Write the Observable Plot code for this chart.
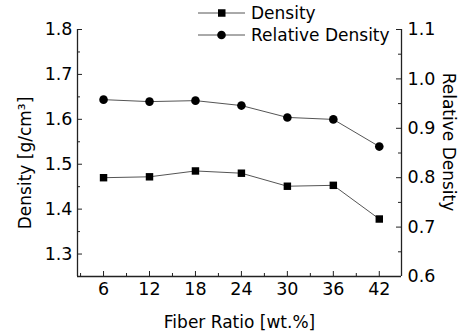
<!DOCTYPE html>
<html><head><meta charset="utf-8">
<script src="https://cdn.jsdelivr.net/npm/d3@7"></script>
<script src="https://cdn.jsdelivr.net/npm/@observablehq/plot@0.6"></script>
<style>
body{margin:0;background:#fff;font-family:"DejaVu Sans",sans-serif}
#wrap{position:relative;width:469px;height:335px}
#legend{position:absolute;left:198px;top:2px;font-size:17px;color:#000;line-height:22px;z-index:2}
#legend div{display:flex;align-items:center;height:22px}
#legend svg{margin-right:6px}
</style></head><body><div id="wrap"><div id="legend"></div></div>
<script>
const fiberRatio = [6, 12, 18, 24, 30, 36, 42];
const density = [1.470, 1.472, 1.485, 1.480, 1.451, 1.453, 1.378];
const relativeDensity = [0.958, 0.954, 0.956, 0.946, 0.922, 0.918, 0.863];
const xTicks = [6, 12, 18, 24, 30, 36, 42];
const xMinorTicks = [3, 9, 15, 21, 27, 33, 39];
const yLeftTicks = [1.3, 1.4, 1.5, 1.6, 1.7, 1.8];
const yLeftMinor = [1.35, 1.45, 1.55, 1.65, 1.75];
const yRightTicks = [0.6, 0.7, 0.8, 0.9, 1.0, 1.1];
const yRightMinor = [0.65, 0.75, 0.85, 0.95, 1.05];
const leftDomain = [1.25, 1.8];
const rightDomain = [0.6, 1.1];
const xDomain = [2.6, 44.9];
const seriesNames = ["Density", "Relative Density"];

const W = 469, H = 335, mL = 77, mR = 68, mT = 29, mB = 59;
const pw = W - mL - mR, ph = H - mT - mB;
const k = (leftDomain[1] - leftDomain[0]) / (rightDomain[1] - rightDomain[0]);
const toLeft = r => leftDomain[0] + (r - rightDomain[0]) * k;
const fromLeft = l => rightDomain[0] + (l - leftDomain[0]) / k;

const dData = fiberRatio.map((x, i) => ({x, y: density[i]}));
const rData = fiberRatio.map((x, i) => ({x, y: toLeft(relativeDensity[i])}));
const fmt = d3.format(".1f");
const lineColor = "#555";
const axisColor = "#222";
const font = "DejaVu Sans, sans-serif";

const chart = Plot.plot({
  width: W, height: H,
  marginLeft: mL, marginRight: mR, marginTop: mT, marginBottom: mB,
  style: {fontFamily: font, fontSize: "17.5px", color: "#000", background: "#fff"},
  x: {domain: xDomain, axis: null},
  y: {domain: leftDomain, axis: null},
  marks: [
    // tick labels
    Plot.axisX(xTicks, {anchor: "bottom", tickSize: 0, tickPadding: 6, label: null, fill: "#000"}),
    Plot.axisY(yLeftTicks, {anchor: "left", tickSize: 0, tickPadding: 5, tickFormat: fmt, label: null, fill: "#000"}),
    Plot.axisY(yRightTicks.map(toLeft), {anchor: "right", tickSize: 0, tickPadding: 6, tickFormat: d => fmt(fromLeft(d)), label: null, fill: "#000"}),
    // inward ticks
    Plot.tickX(xTicks, {x: d => d, insetTop: ph - 5, stroke: axisColor}),
    Plot.tickX(xMinorTicks, {x: d => d, insetTop: ph - 3, stroke: axisColor}),
    Plot.tickY(yLeftTicks, {y: d => d, insetRight: pw - 5, stroke: axisColor}),
    Plot.tickY(yLeftMinor, {y: d => d, insetRight: pw - 3, stroke: axisColor}),
    Plot.tickY(yRightTicks.map(toLeft), {y: d => d, insetLeft: pw - 5, stroke: axisColor}),
    Plot.tickY(yRightMinor.map(toLeft), {y: d => d, insetLeft: pw - 3, stroke: axisColor}),
    // frame lines
    Plot.ruleX([xDomain[0], xDomain[1]], {stroke: axisColor, strokeWidth: 1.3}),
    Plot.ruleY([leftDomain[0]], {stroke: axisColor, strokeWidth: 1.3}),
    // data
    Plot.line(dData, {x: "x", y: "y", stroke: lineColor, strokeWidth: 1}),
    Plot.line(rData, {x: "x", y: "y", stroke: lineColor, strokeWidth: 1}),
    Plot.dot(dData, {x: "x", y: "y", symbol: "square", r: 4.2, fill: "#000", stroke: "none"}),
    Plot.dot(rData, {x: "x", y: "y", symbol: "circle", r: 4.3, fill: "#000", stroke: "none"}),
    // axis titles
    Plot.text(["Fiber Ratio [wt.%]"], {frameAnchor: "bottom", textAnchor: "middle", lineAnchor: "middle", dy: 46, fontSize: 17, fill: "#000"}),
    Plot.text(["Density [g/cm³]"], {frameAnchor: "left", textAnchor: "middle", lineAnchor: "middle", rotate: -90, dx: -52, dy: 10, fontSize: 17, fill: "#000"}),
    Plot.text(["Relative Density"], {frameAnchor: "right", textAnchor: "middle", lineAnchor: "middle", rotate: 90, dx: 47, dy: -11, fontSize: 17, fill: "#000"})
  ]
});
document.getElementById("wrap").appendChild(chart);
chart.style.position = "absolute"; chart.style.left = "0"; chart.style.top = "0";
const legend = document.getElementById("legend");
seriesNames.forEach((name, i) => {
  const row = document.createElement("div");
  const sym = i === 0
    ? '<rect x="20" y="7.25" width="7.5" height="7.5" fill="#000"/>'
    : '<circle cx="23.5" cy="11" r="4.3" fill="#000"/>';
  row.innerHTML = `<svg width="47" height="22"><line x1="0" x2="47" y1="11" y2="11" stroke="${lineColor}" stroke-width="1"/>${sym}</svg><span>${name}</span>`;
  legend.appendChild(row);
});
</script></body></html>
